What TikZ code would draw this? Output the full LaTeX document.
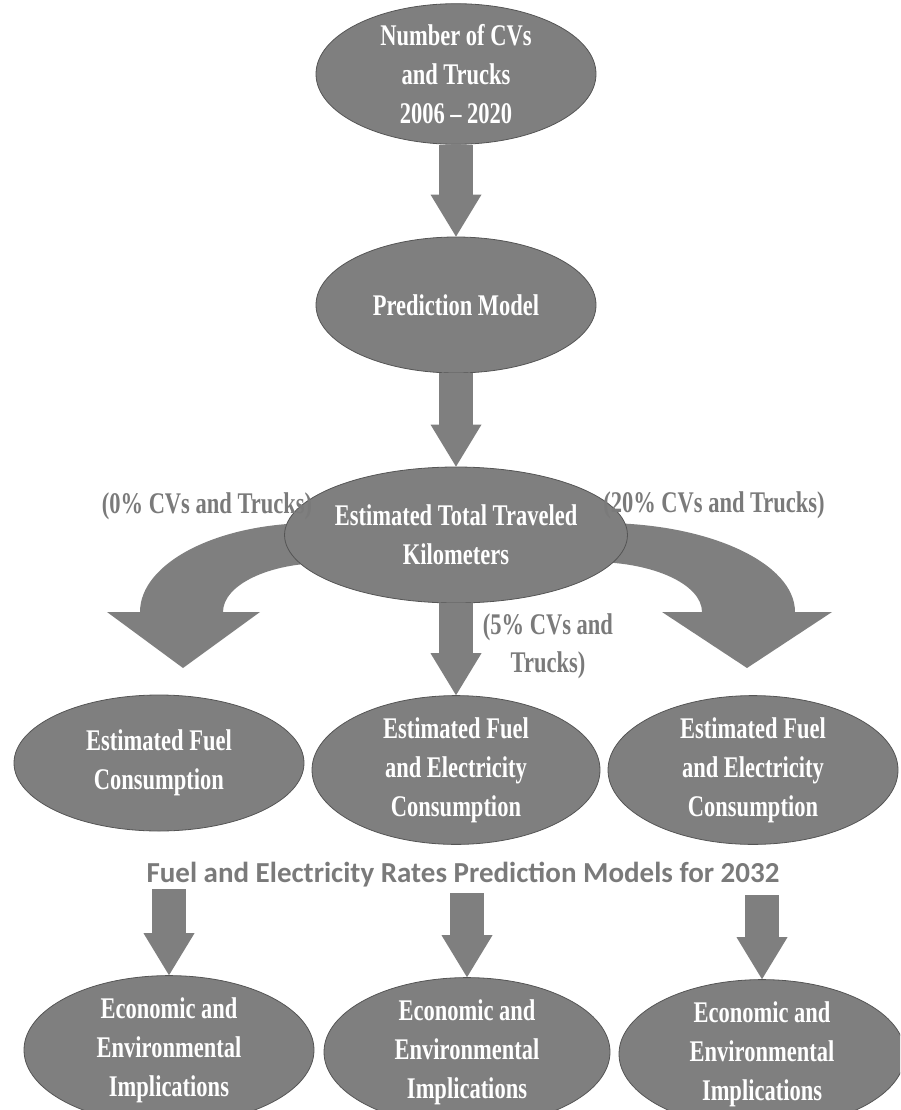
\documentclass[tikz,border=0pt]{standalone}
\usepackage{fontspec}
\newfontfamily\nodefont[FakeStretch=0.75]{Liberation Serif}
\newfontfamily\headfont{Carlito}
\usetikzlibrary{shapes.geometric,arrows.meta}
\definecolor{boxgray}{HTML}{7F7F7F}
\definecolor{edgegray}{HTML}{555555}
\definecolor{labelgray}{HTML}{7A7A7A}
\begin{document}
\begin{tikzpicture}[x=1pt,y=-1pt,
  oval/.style={ellipse, fill=boxgray, draw=edgegray, line width=0.8pt, inner sep=0pt,
    text=white, align=center, font=\nodefont\bfseries\fontsize{30}{39}\selectfont},
  lbl/.style={text=labelgray, align=center, inner sep=0pt,
    font=\nodefont\bfseries\fontsize{30}{38}\selectfont},
  blockarrow/.style={draw=boxgray, line width=34pt,
    -{Triangle[length=42pt,width=51pt,line width=0pt]}},
  curvearrow/.style={fill=boxgray}]
\useasboundingbox (0,0) rectangle (900,1110);
\clip (0,0) rectangle (900,1110);
% curved arrows
\fill[curvearrow] (345,523) -- (313,523) .. controls (217.5,523) and (140,562.9) .. (140,612)
  -- (107,612) -- (183,668) -- (260,612) -- (223,612)
  .. controls (223,585) and (268.7,563) .. (325,563) -- (345,563) -- cycle;
\fill[curvearrow] (570,523) -- (602,523) .. controls (708.5,523) and (795,562.9) .. (795,612)
  -- (832,612) -- (747,668) -- (662,612) -- (702,612)
  .. controls (702,584.4) and (653.2,562) .. (593,562) -- (570,562) -- cycle;
% ellipses
\node[oval, minimum width=280pt, minimum height=140pt] (top) at (456,74) {Number of CVs\\and Trucks\\2006 – 2020};
\node[oval, minimum width=280pt, minimum height=136pt] (pred) at (456,305) {Prediction Model};
\node[oval, minimum width=290pt, minimum height=136pt] (total) at (456,535) {Estimated Total Traveled\\Kilometers};
\node[oval, minimum width=290pt, minimum height=136pt] (fuelL) at (159,763) {Estimated Fuel\\Consumption};
\node[oval, minimum width=288pt, minimum height=146pt] (fuelM) at (456,770) {Estimated Fuel\\and Electricity\\Consumption};
\node[oval, minimum width=290pt, minimum height=144pt] (fuelR) at (753,770) {Estimated Fuel\\and Electricity\\Consumption};
\node[anchor=base, text=labelgray, inner sep=0pt, font=\headfont\bfseries\fontsize{29}{36}\selectfont] (head) at (463,882) {Fuel and Electricity Rates Prediction Models for 2032};
\node[oval, minimum width=290pt, minimum height=142pt] (econL) at (169,1050) {Economic and\\Environmental\\Implications};
\node[oval, minimum width=286pt, minimum height=142pt] (econM) at (467,1052) {Economic and\\Environmental\\Implications};
\node[oval, minimum width=286pt, minimum height=142pt] (econR) at (762,1054) {Economic and\\Environmental\\Implications};
% free ends of the lower arrows
\coordinate (sL) at (169,889);
\coordinate (sM) at (467,893);
\coordinate (sR) at (762,895);
% straight block arrows
\draw[blockarrow] (top.south) -- (pred.north);
\draw[blockarrow] (pred.south) -- (total.north);
\draw[blockarrow] (total.south) -- (fuelM.north);
\draw[blockarrow] (sL) -- (econL.north);
\draw[blockarrow] (sM) -- (econM.north);
\draw[blockarrow] (sR) -- (econR.north);
% labels
\node[lbl] (p0) at (207,506) {(0\% CVs and Trucks)};
\node[lbl] (p20) at (714,505) {(20\% CVs and Trucks)};
\node[lbl] (p5) at (548,646) {(5\% CVs and\\Trucks)};
\end{tikzpicture}
\end{document}
